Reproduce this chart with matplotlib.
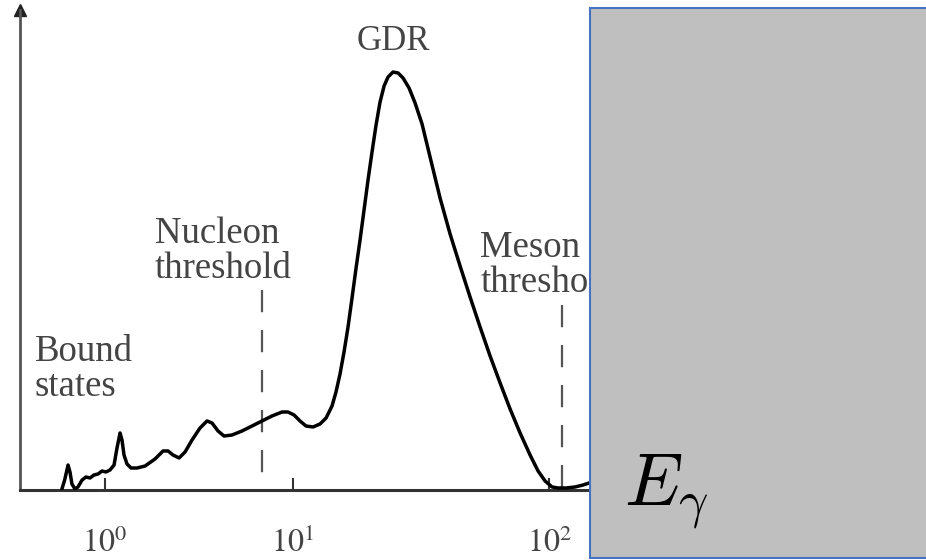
"""
Photoabsorption cross section sketch: bound states, nucleon threshold,
giant dipole resonance (GDR) and meson threshold on a log energy axis.
"""

import numpy as np
import matplotlib
matplotlib.use("Agg")
import matplotlib.pyplot as plt
import matplotlib.patches as mpatches
from matplotlib.ticker import FixedLocator, NullLocator

# ── Data (photon energy in MeV, cross section in arbitrary units) ────────────
energy = [
    0.59, 0.61, 0.636, 0.651, 0.667, 0.692, 0.718, 0.755, 0.792, 0.832,
    0.874, 0.918, 0.964, 1.012, 1.063, 1.117, 1.158, 1.202, 1.231, 1.262,
    1.309, 1.375, 1.479, 1.633, 1.845, 2.035, 2.163, 2.30, 2.476, 2.665,
    2.904, 3.201, 3.488, 3.709, 3.991, 4.296, 4.74, 5.35, 6.05, 6.84,
    7.73, 8.74, 9.40, 10.09, 10.65, 11.24, 11.97, 12.75, 13.46, 14.20,
    14.72, 15.26, 15.82, 16.40, 17.00, 17.63, 18.27, 18.94, 19.63, 20.35,
    21.10, 21.87, 22.68, 23.50, 24.58, 25.72, 26.90, 28.39, 29.97, 31.91,
    34.29, 37.52, 41.06, 44.92, 49.14, 53.77, 58.83, 64.39, 70.42, 77.05,
    84.30, 90.58, 96.47, 102.7, 108.4, 116.5, 126.3, 135.8, 147.2,
]
sigma = [
    0.21, 2.08, 5.21, 3.75, 1.25, 0.21, 0.63, 2.08, 2.71, 2.50,
    3.13, 3.33, 3.96, 3.75, 4.17, 5.21, 8.75, 11.88, 10.42, 7.29,
    5.42, 4.58, 4.58, 5.00, 6.46, 8.13, 8.13, 7.29, 6.67, 7.92,
    10.42, 12.92, 14.38, 13.96, 12.29, 11.25, 11.46, 12.29, 13.33, 14.38,
    15.42, 16.25, 16.25, 15.63, 14.38, 13.33, 13.13, 13.75, 15.00, 17.50,
    20.42, 24.17, 28.75, 33.96, 40.00, 46.25, 52.08, 58.33, 64.58, 70.42,
    76.04, 80.83, 84.17, 86.04, 87.08, 86.88, 85.83, 83.75, 80.63, 76.25,
    69.38, 60.83, 53.33, 46.67, 40.21, 33.96, 27.92, 22.29, 16.88, 11.88,
    7.29, 3.96, 1.88, 0.63, 0.42, 0.42, 0.63, 1.04, 1.67,
]

NUCLEON_THRESHOLD = 6.84   # MeV
MESON_THRESHOLD = 112.4    # MeV

tick_values = [1, 10, 100]
tick_labels = [r"$10^0$", r"$10^1$", r"$10^2$"]

TEXT_GREY = "#444444"
AXIS_GREY = "#333333"

# ── Axis scale: log, with the second decade drawn a bit wider ────────────────
STRETCH = 1.362


def forward(x):
    lg = np.log10(np.clip(x, 1e-6, None))
    return np.where(lg <= 1, lg, 1 + (lg - 1) * STRETCH)


def inverse(p):
    return 10 ** np.where(p <= 1, p, 1 + (p - 1) / STRETCH)


# ── Figure ───────────────────────────────────────────────────────────────────
W, H = 926, 560
fig = plt.figure(figsize=(W / 100, H / 100), dpi=100)
ax = fig.add_axes([20 / W, 70 / H, 906 / W, 480 / H])
ax.set_xscale("function", functions=(forward, inverse))
ax.set_xlim(0.353, 2965)
ax.set_ylim(0, 100)

ax.plot(energy, sigma, color="black", linewidth=2.5, solid_joinstyle="round",
        solid_capstyle="round", zorder=3)

# threshold markers, dashes start at the top
for e_thr, top in [(NUCLEON_THRESHOLD, 41.7), (MESON_THRESHOLD, 38.5)]:
    ax.plot([e_thr, e_thr], [top, 0], color="#555555", linewidth=1.6,
            linestyle=(0, (10, 8)), zorder=2)

# labels
serif = "Liberation Serif"
ax.text(24.6, 93.5, "GDR", family=serif, fontsize=25, color=TEXT_GREY,
        ha="center", va="center")
label_kw = dict(family=serif, fontsize=26.5, color=TEXT_GREY, ha="left",
                va="top", linespacing=1.02)
ax.text(1.845, 56.9, "Nucleon\nthreshold", **label_kw)
ax.text(53.8, 54.0, "Meson\nthreshold", **label_kw)
ax.text(0.424, 32.3, "Bound\nstates", **label_kw)

# axes: left with arrow, bottom plain
for side in ["top", "right"]:
    ax.spines[side].set_visible(False)
ax.spines["left"].set_color("#555555")
ax.spines["left"].set_linewidth(2.0)
ax.spines["bottom"].set_color(AXIS_GREY)
ax.spines["bottom"].set_linewidth(2.2)
ax.plot(0, 1, marker="^", markersize=9, color="#222222",
        transform=ax.transAxes, clip_on=False)

ax.yaxis.set_major_locator(NullLocator())
ax.xaxis.set_major_locator(FixedLocator(tick_values))
ax.xaxis.set_minor_locator(NullLocator())
ax.set_xticklabels(tick_labels)
ax.tick_params(axis="x", direction="in", length=9, width=1.5,
               color=AXIS_GREY, labelcolor=TEXT_GREY, labelsize=23, pad=27)
for lbl in ax.get_xticklabels():
    lbl.set_math_fontfamily("stix")

# grey overlay panel with the energy symbol
panel = mpatches.Rectangle((590 / W, 2 / H), 400 / W, 550 / H,
                           transform=fig.transFigure, facecolor="#bfbfbf",
                           edgecolor="#4472c4", linewidth=1.5, zorder=5)
fig.add_artist(panel)
fig.text(624 / W, 1 - 505 / H, r"$E_\gamma$", fontsize=53,
         math_fontfamily="cm", color="black", ha="left", va="baseline",
         zorder=6)

fig.savefig("out.png", dpi=100, facecolor="white")
